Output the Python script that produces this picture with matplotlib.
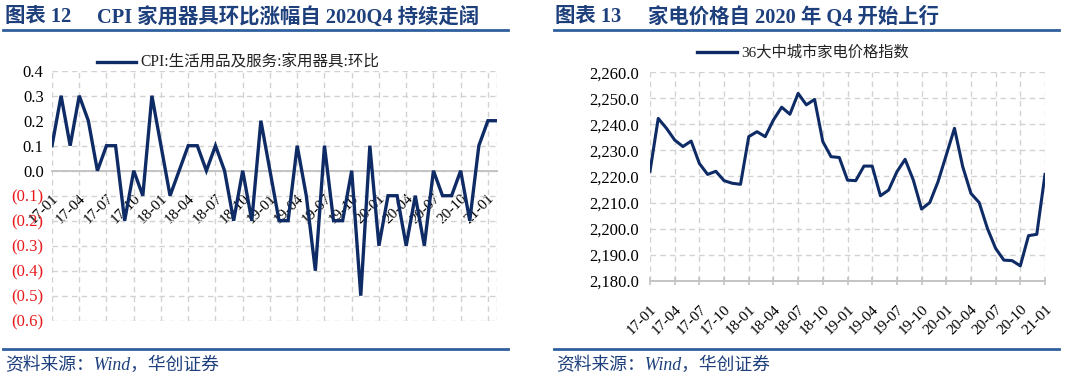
import matplotlib
matplotlib.use("Agg")
import matplotlib.pyplot as plt
from matplotlib.lines import Line2D
from matplotlib.ticker import FuncFormatter, FixedLocator

# ---------------- data ----------------
tick_labels = ["17-01", "17-04", "17-07", "17-10", "18-01", "18-04", "18-07", "18-10",
               "19-01", "19-04", "19-07", "19-10", "20-01", "20-04", "20-07", "20-10", "21-01"]

# Left: CPI household appliances MoM (17-01 .. 21-02)
cpi_mom = [0.1, 0.3, 0.1, 0.3, 0.2, 0.0, 0.1, 0.1, -0.2, 0.0, -0.1, 0.3,
           0.1, -0.1, 0.0, 0.1, 0.1, 0.0, 0.1, 0.0, -0.2, 0.0, -0.2, 0.2,
           0.0, -0.2, -0.2, 0.1, -0.1, -0.4, 0.1, -0.2, -0.2, 0.0, -0.5, 0.1,
           -0.3, -0.1, -0.1, -0.3, -0.1, -0.3, 0.0, -0.1, -0.1, 0.0, -0.2, 0.1,
           0.2, 0.2]

# Right: 36 city appliance price index (17-01 .. 21-01)
price_idx = [2222.0, 2242.3, 2238.5, 2234.0, 2231.5, 2233.6, 2225.0, 2220.8, 2222.0, 2218.4, 2217.4, 2217.0,
             2235.3, 2237.2, 2235.3, 2241.7, 2246.6, 2243.9, 2251.9, 2247.5, 2249.6, 2233.4, 2227.6, 2227.3,
             2218.6, 2218.4, 2224.0, 2224.0, 2212.6, 2214.8, 2221.8, 2226.6, 2218.6, 2207.5, 2210.0, 2218.0,
             2228.2, 2238.5, 2223.8, 2213.5, 2210.0, 2200.1, 2192.4, 2187.9, 2187.7, 2185.7, 2197.3, 2197.8,
             2220.8]

left_title_a = "图表 12"
left_title_b = "CPI 家用器具环比涨幅自 2020Q4 持续走阔"
right_title_a = "图表 13"
right_title_b = "家电价格自 2020 年 Q4 开始上行"
left_legend = "CPI:生活用品及服务:家用器具:环比"
right_legend = "36大中城市家电价格指数"
source = "资料来源：Wind，华创证券"

# ---------------- style ----------------
W, H = 1080, 376
FAM = ["Liberation Serif", "Noto Sans CJK SC"]
plt.rcParams["font.family"] = FAM
LINE_C = "#0E2B66"
TITLE_C = "#1D3F7C"
RULE_C = "#2F5F9E"
GRID_C = "#d2d2d2"
AXIS_C = "#c4c4c4"

fig = plt.figure(figsize=(W / 100, H / 100), dpi=100)
fig.patch.set_facecolor("white")


def fx(px):
    return px / W


def fy(py):
    return 1 - py / H


def rule(x0, x1, y):
    fig.add_artist(Line2D([fx(x0), fx(x1)], [fy(y), fy(y)], color=RULE_C, lw=2.0,
                          transform=fig.transFigure))


# titles and rules
for xa, xb, ta, tb in [(5, 97, left_title_a, left_title_b), (555, 648, right_title_a, right_title_b)]:
    fig.text(fx(xa), fy(17), ta, fontsize=14.7, fontweight="bold", color=TITLE_C, va="center", ha="left")
    fig.text(fx(xb), fy(17), tb, fontsize=14.7, fontweight="bold", color=TITLE_C, va="center", ha="left")
rule(3, 508, 30)
rule(554, 1059, 30)
rule(3, 508, 349)
rule(554, 1059, 349)
fig.text(fx(5), fy(365), source, fontsize=12.8, style="italic", color=TITLE_C, va="center", ha="left")
fig.text(fx(556), fy(365), source, fontsize=12.8, style="italic", color=TITLE_C, va="center", ha="left")

grid_kw = dict(color=GRID_C, linestyle=(0, (4, 3)), linewidth=1.0)

# ---------------- left chart ----------------
axL = fig.add_axes([fx(52), fy(320.7), fx(497 - 52), (320.7 - 70.7) / H])
xL = list(range(len(cpi_mom)))
axL.plot(xL, cpi_mom, color=LINE_C, lw=2.4, solid_joinstyle="miter", zorder=3)
axL.set_xlim(0, len(cpi_mom) - 1)
axL.set_ylim(-0.6, 0.4)
yt = [0.4, 0.3, 0.2, 0.1, 0.0, -0.1, -0.2, -0.3, -0.4, -0.5, -0.6]
axL.yaxis.set_major_locator(FixedLocator(yt))
axL.yaxis.set_major_formatter(FuncFormatter(
    lambda v, p: f"{v:.1f}" if v >= -1e-9 else f"({abs(v):.1f})"))
axL.xaxis.set_major_locator(FixedLocator(list(range(0, 3 * len(tick_labels), 3))))
axL.set_xticklabels(tick_labels)
for s in ["top", "right", "left"]:
    axL.spines[s].set_visible(False)
axL.spines["bottom"].set_position(("data", 0))
axL.spines["bottom"].set_color(AXIS_C)
axL.spines["bottom"].set_linewidth(1.4)
axL.grid(True, **grid_kw)
axL.set_axisbelow(True)
axL.axvline(len(cpi_mom) - 1, **grid_kw)
axL.tick_params(axis="y", length=0, labelsize=12, pad=6)
axL.tick_params(axis="x", length=0, labelsize=11, pad=15)
for lab in axL.get_yticklabels():
    lab.set_color("#E8191B" if "(" in lab.get_text() else "black")
for lab in axL.get_xticklabels():
    lab.set_rotation(45)
    lab.set_ha("right")
    lab.set_va("top")
    lab.set_rotation_mode("anchor")

# legend left
fig.add_artist(Line2D([fx(97), fx(136)], [fy(62), fy(62)], color=LINE_C, lw=2.4,
                      transform=fig.transFigure))
fig.text(fx(140), fy(62), left_legend, fontsize=11.2, va="center", ha="left", color="#222222")

# ---------------- right chart ----------------
axR = fig.add_axes([fx(650), fy(280.7), fx(1045 - 650), (280.7 - 72.3) / H])
xR = list(range(len(price_idx)))
axR.plot(xR, price_idx, color=LINE_C, lw=2.2, zorder=3)
axR.set_xlim(0, len(price_idx) - 1)
axR.set_ylim(2180, 2260)
axR.yaxis.set_major_locator(FixedLocator(list(range(2180, 2261, 10))))
axR.yaxis.set_major_formatter(FuncFormatter(lambda v, p: f"{v:,.1f}"))
axR.xaxis.set_major_locator(FixedLocator(list(range(0, 3 * len(tick_labels), 3))))
axR.set_xticklabels(tick_labels)
for s in ["top", "right", "left"]:
    axR.spines[s].set_visible(False)
axR.spines["bottom"].set_color(AXIS_C)
axR.spines["bottom"].set_linewidth(1.4)
axR.grid(True, **grid_kw)
axR.set_axisbelow(True)
axR.tick_params(axis="y", length=0, labelsize=12, pad=8)
axR.tick_params(axis="x", length=6, width=1.2, color=AXIS_C, direction="inout", labelsize=11, pad=13)
for lab in axR.get_xticklabels():
    lab.set_rotation(45)
    lab.set_ha("right")
    lab.set_va("top")
    lab.set_rotation_mode("anchor")

fig.add_artist(Line2D([fx(697), fx(737)], [fy(52), fy(52)], color=LINE_C, lw=2.4,
                      transform=fig.transFigure))
fig.text(fx(741), fy(52), right_legend, fontsize=11, va="center", ha="left", color="#222222")

fig.savefig("out.png", dpi=100, facecolor="white")
